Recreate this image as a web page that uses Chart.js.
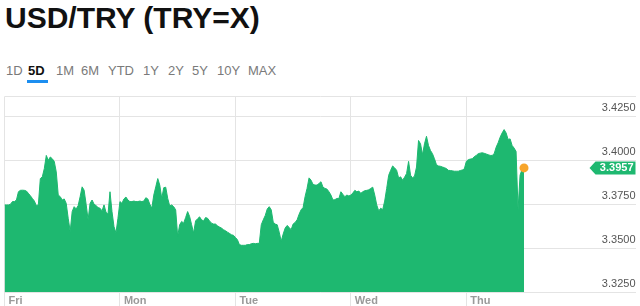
<!DOCTYPE html>
<html>
<head>
<meta charset="utf-8">
<script src="https://cdn.jsdelivr.net/npm/chart.js@4"></script>
<style>
  body { margin: 0; background: #fff; width: 640px; height: 306px; overflow: hidden; position: relative;
         font-family: "Liberation Sans", Arial, Helvetica, sans-serif; }
  #title { position: absolute; left: 5px; top: 3px; font-size: 30px; line-height: 30px; font-weight: bold; color: #111; white-space: nowrap; }
  .tab { position: absolute; top: 63px; font-size: 13px; line-height: 16px; color: #7a7a7a; }
  .tab.on { color: #111; font-weight: bold; }
  #tabline { position: absolute; left: 27px; top: 80px; width: 21px; height: 3px; background: #1c8ef0; }
  #wrap { position: absolute; left: 0; top: 90px; }
</style>
</head>
<body>
<div id="title">USD/TRY (TRY=X)</div>
<div id="tabs"></div>
<div id="tabline"></div>
<div id="wrap"><canvas id="chart" width="640" height="218"></canvas></div>
<script>
// period buttons
var tabNames = ['1D', '5D', '1M', '6M', 'YTD', '1Y', '2Y', '5Y', '10Y', 'MAX'];
var tabLeft = [6, 28, 56, 81, 108, 143, 168, 192, 217, 248];

// 5 day rates, one reading every ~2px of the original chart (58 per day)
var friRates = [3.3746, 3.3746, 3.3746, 3.3750, 3.3765, 3.3765, 3.3774, 3.3821, 3.3829, 3.3830,
  3.3829, 3.3825, 3.3812, 3.3798, 3.3783, 3.3768, 3.3742, 3.3746, 3.3896, 3.3906,
  3.3953, 3.4028, 3.4000, 3.4019, 3.4009, 3.3994, 3.3934, 3.3802, 3.3793, 3.3774,
  3.3780, 3.3755, 3.3670, 3.3595, 3.3708, 3.3736, 3.3723, 3.3742, 3.3793, 3.3849,
  3.3830, 3.3750, 3.3661, 3.3755, 3.3774, 3.3750, 3.3742, 3.3731, 3.3727, 3.3712,
  3.3746, 3.3704, 3.3693, 3.3821, 3.3708, 3.3623, 3.3586, 3.3670];
var monRates = [3.3765, 3.3755, 3.3780, 3.3791, 3.3774, 3.3765, 3.3765, 3.3768, 3.3765, 3.3765,
  3.3768, 3.3765, 3.3768, 3.3787, 3.3780, 3.3750, 3.3727, 3.3802, 3.3849, 3.3896,
  3.3859, 3.3783, 3.3844, 3.3847, 3.3783, 3.3740, 3.3746, 3.3736, 3.3718, 3.3567,
  3.3633, 3.3652, 3.3642, 3.3674, 3.3708, 3.3680, 3.3633, 3.3586, 3.3655, 3.3667,
  3.3678, 3.3661, 3.3655, 3.3674, 3.3670, 3.3655, 3.3642, 3.3637, 3.3637, 3.3627,
  3.3620, 3.3614, 3.3605, 3.3599, 3.3591, 3.3584, 3.3576, 3.3573];
var tueRates = [3.3561, 3.3548, 3.3520, 3.3516, 3.3516, 3.3516, 3.3520, 3.3520, 3.3525, 3.3527,
  3.3525, 3.3527, 3.3527, 3.3633, 3.3661, 3.3686, 3.3723, 3.3736, 3.3718, 3.3648,
  3.3637, 3.3633, 3.3591, 3.3539, 3.3580, 3.3614, 3.3629, 3.3618, 3.3605, 3.3637,
  3.3646, 3.3661, 3.3693, 3.3718, 3.3731, 3.3793, 3.3840, 3.3900, 3.3887, 3.3863,
  3.3859, 3.3859, 3.3868, 3.3878, 3.3847, 3.3840, 3.3836, 3.3821, 3.3802, 3.3774,
  3.3776, 3.3783, 3.3783, 3.3821, 3.3806, 3.3793, 3.3802, 3.3797];
var wedRates = [3.3802, 3.3814, 3.3829, 3.3821, 3.3825, 3.3812, 3.3821, 3.3827, 3.3829, 3.3832,
  3.3840, 3.3847, 3.3802, 3.3746, 3.3712, 3.3727, 3.3719, 3.3768, 3.3840, 3.3915,
  3.3943, 3.3968, 3.3957, 3.3943, 3.3900, 3.3906, 3.3887, 3.3904, 3.3925, 3.3994,
  3.3915, 3.3900, 3.3911, 3.3962, 3.4113, 3.4094, 3.4032, 3.4094, 3.4137, 3.4085,
  3.4056, 3.4038, 3.4009, 3.3975, 3.3968, 3.3966, 3.3962, 3.3958, 3.3953, 3.3943,
  3.3942, 3.3940, 3.3938, 3.3938, 3.3938, 3.3942, 3.3945, 3.3951];
var thuRates = [3.3994, 3.4004, 3.4007, 3.4009, 3.4021, 3.4028, 3.4038, 3.4041, 3.4043, 3.4040,
  3.4036, 3.4032, 3.4028, 3.4028, 3.4038, 3.4075, 3.4100, 3.4132, 3.4156, 3.4175,
  3.4156, 3.4119, 3.4122, 3.4085, 3.4070, 3.4051, 3.3718, 3.3915, 3.3949, 3.3957];

var dayLabels = ['Fri', 'Mon', 'Tue', 'Wed', 'Thu'];
var samplesPerDay = 58;
var yTicks = [3.3250, 3.3500, 3.3750, 3.4000, 3.4250];
var yMin = 3.3250;
var yMax = 3.4363;
var xMax = 317;

var green = '#1eb870';
var orange = '#f7a52b';
var gridColor = '#e4e4e4';
var font = '"Liberation Sans", Arial, Helvetica, sans-serif';

for (var t = 0; t < tabNames.length; t++) {
  var el = document.createElement('div');
  el.className = 'tab' + (tabNames[t] == '5D' ? ' on' : '');
  el.style.left = tabLeft[t] + 'px';
  el.textContent = tabNames[t];
  document.getElementById('tabs').appendChild(el);
}

var rates = friRates.concat(monRates, tueRates, wedRates, thuRates);
var lastIdx = rates.length - 1;
var points = [];
for (var i = 0; i < rates.length; i++) {
  points.push({x: i, y: rates[i]});
}

// green price flag at the last value
var priceTag = {
  id: 'priceTag',
  afterDatasetsDraw: function(chart) {
    var ctx = chart.ctx;
    var y = chart.scales.y.getPixelForValue(rates[lastIdx]);
    var r = chart.chartArea.right;
    var l = r - 40;
    ctx.save();
    ctx.fillStyle = green;
    ctx.beginPath();
    ctx.moveTo(l - 6, y);
    ctx.lineTo(l, y - 6.5);
    ctx.lineTo(r, y - 6.5);
    ctx.lineTo(r, y + 6.5);
    ctx.lineTo(l, y + 6.5);
    ctx.closePath();
    ctx.fill();
    ctx.fillStyle = '#fff';
    ctx.font = 'bold 11px ' + font;
    ctx.textAlign = 'right';
    ctx.textBaseline = 'middle';
    ctx.fillText(rates[lastIdx].toFixed(4), r - 2, y + 0.5);
    ctx.restore();
  }
};

var chart = new Chart(document.getElementById('chart').getContext('2d'), {
  type: 'line',
  data: {
    datasets: [{
      data: points,
      borderColor: green,
      borderWidth: 1,
      backgroundColor: green,
      fill: 'start',
      tension: 0,
      pointRadius: function(c) { return c.dataIndex === lastIdx ? 4.5 : 0; },
      pointBackgroundColor: orange,
      pointBorderWidth: 0,
      pointHoverRadius: 0
    }]
  },
  options: {
    responsive: false,
    animation: false,
    devicePixelRatio: 1,
    layout: { padding: { left: 2, right: 4, top: 4, bottom: 0 } },
    plugins: { legend: { display: false }, tooltip: { enabled: false } },
    scales: {
      x: {
        type: 'linear',
        min: 0,
        max: xMax,
        border: { display: false },
        grid: { color: gridColor, tickLength: 14, tickColor: gridColor },
        afterBuildTicks: function(axis) {
          axis.ticks = dayLabels.map(function(d, k) { return {value: k * samplesPerDay}; });
        },
        afterFit: function(axis) { axis.height = 16; },
        ticks: {
          align: 'start',
          labelOffset: 4,
          padding: -12,
          maxRotation: 0,
          autoSkip: false,
          color: '#9a9a9a',
          font: { family: font, size: 11, weight: 'bold' },
          callback: function(v, idx) { return dayLabels[idx]; }
        }
      },
      y: {
        position: 'right',
        min: yMin,
        max: yMax,
        border: { display: false },
        grid: { color: gridColor, drawTicks: false },
        afterBuildTicks: function(axis) {
          axis.ticks = yTicks.concat([yMax]).map(function(v) { return {value: v}; });
        },
        ticks: {
          mirror: true,
          padding: 0,
          labelOffset: -8,
          color: '#555',
          font: { family: font, size: 11 },
          callback: function(v) { return yTicks.indexOf(v) >= 0 ? v.toFixed(4) : ''; }
        }
      }
    }
  },
  plugins: [priceTag]
});
</script>
</body>
</html>
